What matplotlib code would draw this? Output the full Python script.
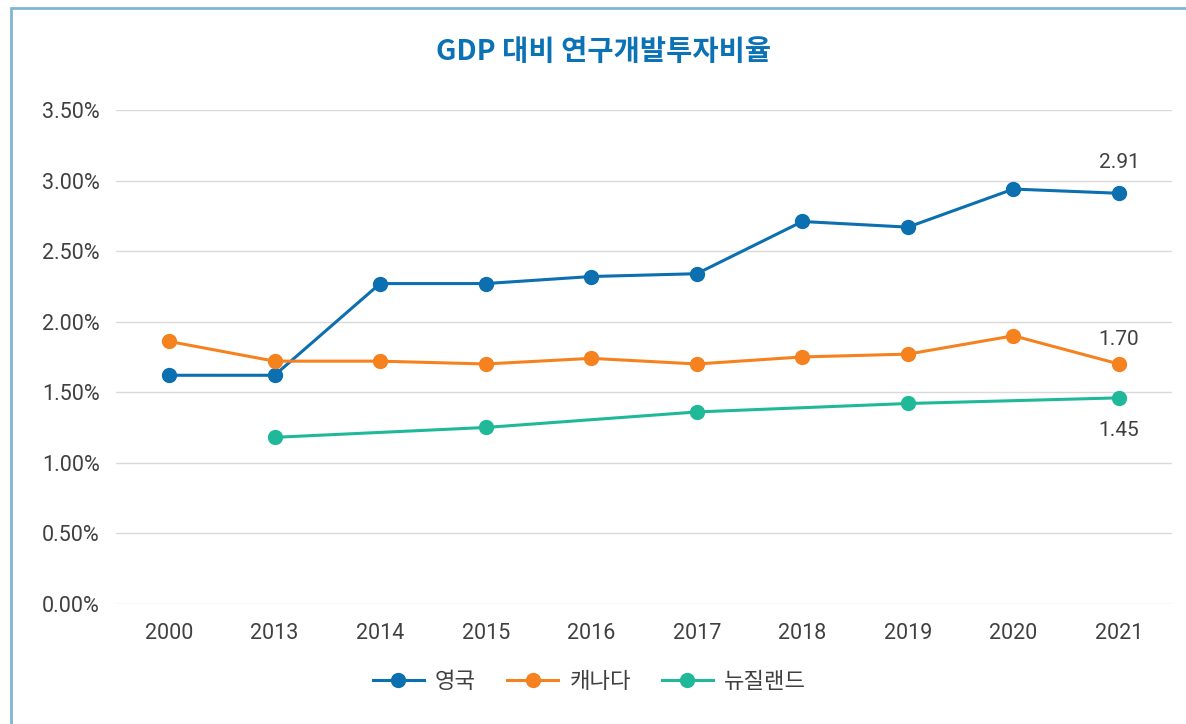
import matplotlib.pyplot as plt
import matplotlib.patches as mpatches
import numpy as np

plt.rcParams['font.family'] = ['Roboto', 'Noto Sans CJK KR', 'DejaVu Sans']

years = ['2000', '2013', '2014', '2015', '2016', '2017', '2018', '2019', '2020', '2021']
uk = [1.62, 1.62, 2.27, 2.27, 2.32, 2.34, 2.71, 2.67, 2.94, 2.91]
canada = [1.86, 1.72, 1.72, 1.70, 1.74, 1.70, 1.75, 1.77, 1.90, 1.70]
nz = [np.nan, 1.18, np.nan, 1.25, np.nan, 1.36, np.nan, 1.42, np.nan, 1.46]
names = ['영국', '캐나다', '뉴질랜드']
colors = ['#0b6fb0', '#f5821f', '#1fb99a']
end_labels = ['2.91', '1.70', '1.45']

fig = plt.figure(figsize=(11.86, 7.24), dpi=100)
ax = fig.add_axes([0.098, 0.166, 0.89, 0.682])

# 테두리
fig.patches.append(mpatches.Rectangle((0.0095, -0.05), 1.2, 1.039, transform=fig.transFigure,
                                      fill=False, edgecolor='#7fb6d6', linewidth=2))

x = np.arange(len(years))
for vals, name, c in zip([uk, canada, nz], names, colors):
    v = np.array(vals, dtype=float)
    m = ~np.isnan(v)
    ax.plot(x[m], v[m], color=c, linewidth=2.2, marker='o', markersize=10, label=name)

ax.annotate(end_labels[0], (x[-1], uk[-1]), xytext=(0, 15), textcoords='offset points',
            ha='center', va='bottom', fontsize=15, color='#404040')
ax.annotate(end_labels[1], (x[-1], canada[-1]), xytext=(0, 11), textcoords='offset points',
            ha='center', va='bottom', fontsize=15, color='#404040')
ax.annotate(end_labels[2], (x[-1], nz[-1]), xytext=(0, -17), textcoords='offset points',
            ha='center', va='top', fontsize=15, color='#404040')

ax.set_xlim(-0.5, 9.5)
ax.set_ylim(0, 3.5)
ax.set_yticks(np.arange(0, 3.51, 0.5))
ax.set_yticklabels([f'{t:.2f}%' for t in np.arange(0, 3.51, 0.5)])
ax.set_xticks(x)
ax.set_xticklabels(years)
ax.tick_params(axis='both', length=0, labelsize=15.5, labelcolor='#404040')
ax.tick_params(axis='y', pad=12)
ax.tick_params(axis='x', pad=14)
ax.grid(axis='y', color='#d9d9d9', linewidth=1)
ax.set_axisbelow(True)
for s in ax.spines.values():
    s.set_visible(False)

fig.text(0.509, 0.928, 'GDP 대비 연구개발투자비율', ha='center', va='center', fontsize=20.5,
         fontweight='bold', color='#0a72b5', family=['Noto Sans CJK KR'])

fig.legend(loc='center', bbox_to_anchor=(0.497, 0.057), ncol=3, frameon=False,
           fontsize=16, handlelength=2.3, handletextpad=0.5, columnspacing=1.4,
           labelcolor='#404040')

fig.savefig('out.png', dpi=100)
